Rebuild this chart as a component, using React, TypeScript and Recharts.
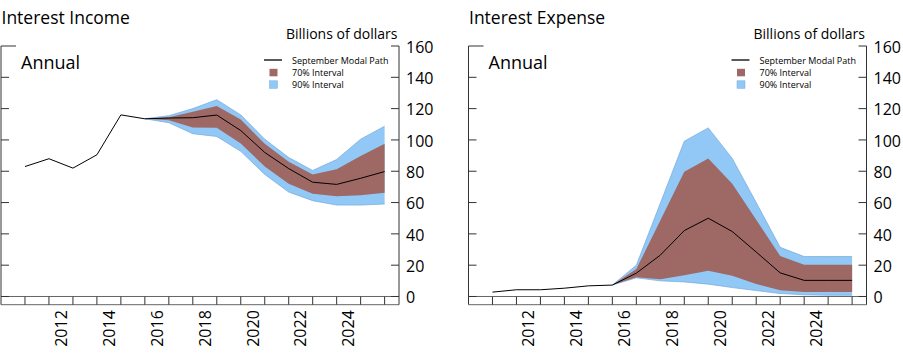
import React from 'react';
import { ComposedChart, Area, Line, XAxis, YAxis, ReferenceLine } from 'recharts';

// ---------- data ----------
const years = [2010, 2011, 2012, 2013, 2014, 2015, 2016, 2017, 2018, 2019, 2020, 2021, 2022, 2023, 2024, 2025];
const yearTickLabels = [2012, 2014, 2016, 2018, 2020, 2022, 2024];
const valueTicks = [0, 20, 40, 60, 80, 100, 120, 140, 160];

const incomeModal = [83, 88, 82, 90.5, 116, 113.5, 114, 114.2, 115.9, 106, 92, 81.7, 73, 71.6, 75.5, 79.8];
const incomeLow70 = [null, null, null, null, null, 113.5, 112.5, 108, 107.8, 97.8, 83, 72, 65.7, 64, 64.6, 66.3];
const incomeHigh70 = [null, null, null, null, null, 113.5, 114.5, 118, 121.7, 113, 97.5, 86, 78, 81.2, 89.7, 97.5];
const incomeLow90 = [null, null, null, null, null, 113.5, 111, 104, 102.2, 92.7, 78, 66.7, 61.2, 58.4, 58.4, 59.1];
const incomeHigh90 = [null, null, null, null, null, 113.5, 115.5, 120, 125.7, 116, 100.5, 88.8, 80.5, 87.5, 100.5, 108.8];

const expenseModal = [2.8, 4.3, 4.3, 5.3, 6.8, 7.3, 14.9, 26.4, 42.1, 50, 41.5, 28.4, 15.1, 10.3, 10.3, 10.3];
const expenseLow70 = [null, null, null, null, null, 7.3, 12.3, 11, 13.6, 16.4, 13.2, 8, 4, 2.8, 2.8, 2.8];
const expenseHigh70 = [null, null, null, null, null, 7.3, 17.5, 48.5, 79.7, 88.2, 72, 49, 25.9, 20.2, 20.2, 20.2];
const expenseLow90 = [null, null, null, null, null, 7.3, 11.9, 10, 9.3, 7.9, 5.7, 3.8, 1.9, 1.1, 0.8, 0.8];
const expenseHigh90 = [null, null, null, null, null, 7.3, 20, 59.5, 99.2, 107.7, 88.2, 60, 31.4, 25.5, 25.5, 25.5];

// ---------- layout / style ----------
const FONT = '"Open Sans", "Noto Sans", sans-serif';
const CHART_H = 361;
const PLOT_TOP = 46;
const PLOT_BOTTOM = 304.7;
const PLOT_W = 398;
const Y_AXIS_W = 36;
const X_AXIS_H = 50;
const BROWN = '#9e6865';
const BLUE = '#91c8f5';
const BLUE_EDGE = '#74a8dc';
const AXIS = '#333';

type Num = number | null;

function buildRows(modal: number[], lo70: Num[], hi70: Num[], lo90: Num[], hi90: Num[]) {
  return years.map((year, i) => ({
    year,
    pos: year - 2009,
    modal: modal[i],
    band70: lo70[i] == null ? null : [lo70[i], hi70[i]],
    band90: lo90[i] == null ? null : [lo90[i], hi90[i]],
  }));
}

const incomeRows = buildRows(incomeModal, incomeLow70, incomeHigh70, incomeLow90, incomeHigh90);
const expenseRows = buildRows(expenseModal, expenseLow70, expenseHigh70, expenseLow90, expenseHigh90);

const boundaryTicks = years.map((y) => y - 2009);
const labelTicks = yearTickLabels.map((y) => y - 2010 + 0.5);
const xTicks = [...boundaryTicks, ...labelTicks];

const XTick = (props: any) => {
  const { x, payload } = props;
  const v = payload.value as number;
  if (Number.isInteger(v)) {
    return <line x1={x} x2={x} y1={PLOT_BOTTOM - 8} y2={PLOT_BOTTOM} stroke={AXIS} strokeWidth={1} />;
  }
  const year = Math.round(v - 0.5) + 2010;
  const ty = PLOT_BOTTOM + 5.5;
  return (
    <text
      x={x}
      y={ty}
      dy="0.36em"
      transform={`rotate(-90 ${x} ${ty})`}
      textAnchor="end"
      fontFamily={FONT}
      fontSize={16}
      fill="#000"
    >
      {year}
    </text>
  );
};

const makeYTick = (plotLeft: number, plotRight: number) => (props: any) => {
  const { y, payload } = props;
  const v = payload.value as number;
  return (
    <g>
      <line x1={plotRight - 8} x2={plotRight} y1={y} y2={y} stroke={AXIS} strokeWidth={1} />
      <line x1={plotLeft} x2={plotLeft + (v === 160 ? 15 : 8)} y1={y} y2={y} stroke={AXIS} strokeWidth={1} />
      <text x={plotRight + 7} y={y} dy="0.42em" textAnchor="start" fontFamily={FONT} fontSize={16} fill="#000">
        {v}
      </text>
    </g>
  );
};

type PanelProps = {
  rows: any[];
  left: number;
  width: number;
  marginLeft: number;
  title: string;
};

function Panel({ rows, left, width, marginLeft, title }: PanelProps) {
  const plotLeft = marginLeft;
  const plotRight = marginLeft + PLOT_W;
  const marginRight = width - marginLeft - PLOT_W - Y_AXIS_W;
  const marginBottom = CHART_H - PLOT_BOTTOM - X_AXIS_H;
  const gl = left + plotLeft; // page x of plot left
  return (
    <>
      <div style={{ position: 'absolute', left, top: 0, width, height: CHART_H }}>
        <ComposedChart
          width={width}
          height={CHART_H}
          data={rows}
          margin={{ top: PLOT_TOP, right: marginRight, bottom: marginBottom, left: marginLeft }}
        >
          <XAxis
            dataKey="pos"
            type="number"
            domain={[0, 16.6]}
            allowDataOverflow
            ticks={xTicks}
            interval={0}
            height={X_AXIS_H}
            tickSize={0}
            tickMargin={0}
            tickLine={false}
            axisLine={{ stroke: '#666', strokeWidth: 1 }}
            tick={(p: any) => <XTick {...p} />}
          />
          <YAxis
            orientation="right"
            type="number"
            domain={[-5.24, 160]}
            allowDataOverflow
            ticks={valueTicks}
            interval={0}
            width={Y_AXIS_W}
            tickSize={0}
            tickMargin={7}
            tickLine={false}
            axisLine={{ stroke: AXIS, strokeWidth: 1 }}
            tick={makeYTick(plotLeft, plotRight)}
          />
          <ReferenceLine x={0} stroke={AXIS} strokeWidth={1} ifOverflow="visible" />
          <ReferenceLine y={0} stroke="#666" strokeWidth={1} />
          <Area
            dataKey="band90"
            type="linear"
            fill={BLUE}
            fillOpacity={1}
            stroke={BLUE_EDGE}
            strokeWidth={0.7}
            dot={false}
            activeDot={false}
            connectNulls={false}
            isAnimationActive={false}
          />
          <Area
            dataKey="band70"
            type="linear"
            fill={BROWN}
            fillOpacity={1}
            stroke="none"
            dot={false}
            activeDot={false}
            connectNulls={false}
            isAnimationActive={false}
          />
          <Line
            dataKey="modal"
            type="linear"
            stroke="#000"
            strokeWidth={1}
            dot={false}
            activeDot={false}
            isAnimationActive={false}
          />
        </ComposedChart>
      </div>
      <svg
        width={903}
        height={CHART_H}
        style={{ position: 'absolute', left: 0, top: 0, pointerEvents: 'none' }}
      >
        <text x={gl + 0.5} y={24} fontFamily={FONT} fontSize={17.5} fill="#000">
          {title}
        </text>
        <text x={gl + 20} y={69} fontFamily={FONT} fontSize={18} fill="#000">
          Annual
        </text>
        <text x={gl + PLOT_W - 1.5} y={39} textAnchor="end" fontFamily={FONT} fontSize={14} fill="#000">
          Billions of dollars
        </text>
        <line x1={gl + 263} x2={gl + 281} y1={60} y2={60} stroke="#000" strokeWidth={1.3} />
        <text x={gl + 291} y={63.5} fontFamily={FONT} fontSize={9} fill="#000">
          September Modal Path
        </text>
        <rect x={gl + 268.5} y={68.8} width={8} height={7.5} fill={BROWN} />
        <text x={gl + 291} y={75.8} fontFamily={FONT} fontSize={9} fill="#000">
          70% Interval
        </text>
        <rect x={gl + 268.5} y={80.8} width={8} height={7.5} fill={BLUE} stroke={BLUE_EDGE} strokeWidth={0.5} />
        <text x={gl + 291} y={87.8} fontFamily={FONT} fontSize={9} fill="#000">
          90% Interval
        </text>
      </svg>
    </>
  );
}

export default function App() {
  return (
    <div style={{ position: 'absolute', left: 0, top: 0, width: 903, height: CHART_H, background: '#fff', overflow: 'hidden' }}>
      <Panel rows={incomeRows} left={0} width={450} marginLeft={1} title="Interest Income" />
      <Panel rows={expenseRows} left={460} width={443} marginLeft={8.5} title="Interest Expense" />
    </div>
  );
}
